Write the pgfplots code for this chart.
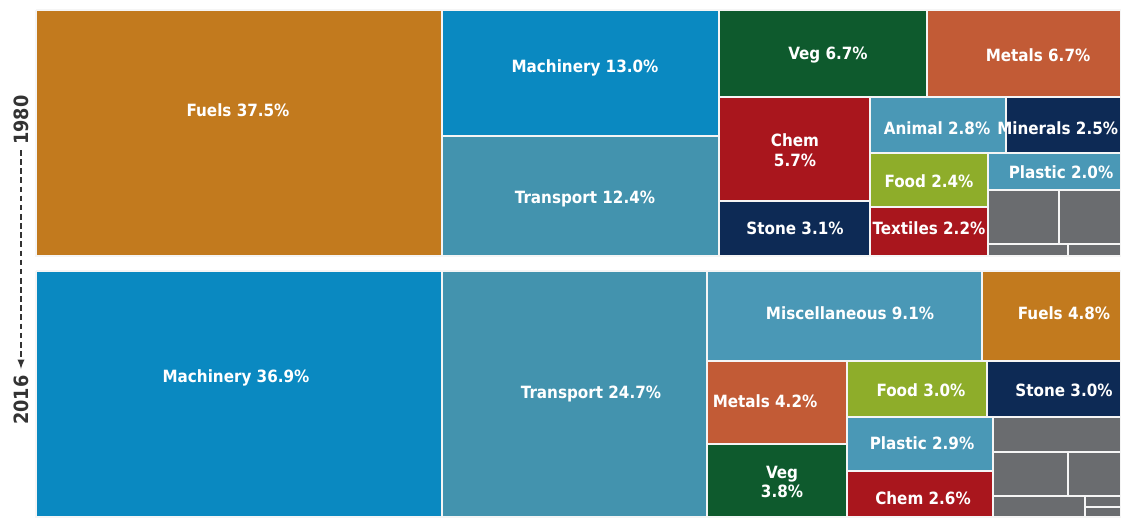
\documentclass[border=0pt]{standalone}
\usepackage{fontspec}
\setmainfont{DejaVu Sans Condensed}
\usepackage{pgfplots}
\pgfplotsset{compat=1.18}

\definecolor{cFuel}{HTML}{C27A1E}
\definecolor{cMach}{HTML}{0A89C1}
\definecolor{cTrans}{HTML}{4393AE}
\definecolor{cVeg}{HTML}{0E5A2D}
\definecolor{cMetal}{HTML}{C25B36}
\definecolor{cChem}{HTML}{A9161D}
\definecolor{cNavy}{HTML}{0D2A55}
\definecolor{cLight}{HTML}{4A98B6}
\definecolor{cFood}{HTML}{8EAD2A}
\definecolor{cGrey}{HTML}{6A6C6F}
\definecolor{cYear}{HTML}{333333}

% one treemap tile: x0, y0, x1, y1 (pixels, y downwards), colour
\newcommand{\tile}[5]{%
  \addplot[fill=#5, draw=white!92!gray, line width=1pt]
    coordinates {(#1,#2) (#3,#2) (#3,#4) (#1,#4) (#1,#2)};}
\newcommand{\lblfont}{\bfseries\fontsize{12}{13}\selectfont}
\newcommand{\lbl}[3]{%
  \node[text=white, font=\lblfont, align=center]
    at (axis cs:#1,#2) {#3};}

\begin{document}
\begin{tikzpicture}
\begin{axis}[
    width=28.025cm, height=12.925cm,
    scale only axis,
    xmin=0, xmax=1121,
    ymin=0, ymax=517,
    y dir=reverse,
    hide axis,
    clip=false,
]
% ---- 1980 ----
\tile{36}{10}{442}{256}{cFuel}
\tile{442}{10}{719}{136}{cMach}
\tile{442}{136}{719}{256}{cTrans}
\tile{719}{10}{927}{97}{cVeg}
\tile{927}{10}{1121}{97}{cMetal}
\tile{719}{97}{870}{201}{cChem}
\tile{719}{201}{870}{256}{cNavy}
\tile{870}{97}{1006}{153}{cLight}
\tile{1006}{97}{1121}{153}{cNavy}
\tile{870}{153}{988}{207}{cFood}
\tile{870}{207}{988}{256}{cChem}
\tile{988}{153}{1121}{190}{cLight}
\tile{988}{190}{1059}{244}{cGrey}
\tile{1059}{190}{1121}{244}{cGrey}
\tile{988}{244}{1068}{256}{cGrey}
\tile{1068}{244}{1121}{256}{cGrey}
% ---- 2016 ----
\tile{36}{271}{442}{517}{cMach}
\tile{442}{271}{707}{517}{cTrans}
\tile{707}{271}{982}{361}{cLight}
\tile{982}{271}{1121}{361}{cFuel}
\tile{707}{361}{847}{444}{cMetal}
\tile{707}{444}{847}{517}{cVeg}
\tile{847}{361}{987}{417}{cFood}
\tile{987}{361}{1121}{417}{cNavy}
\tile{847}{417}{993}{471}{cLight}
\tile{847}{471}{993}{517}{cChem}
\tile{993}{417}{1121}{452}{cGrey}
\tile{993}{452}{1068}{496}{cGrey}
\tile{1068}{452}{1121}{496}{cGrey}
\tile{993}{496}{1085}{517}{cGrey}
\tile{1085}{496}{1121}{507}{cGrey}
\tile{1085}{507}{1121}{517}{cGrey}

% labels 1980
\lbl{238}{110}{Fuels 37.5\%}
\lbl{585}{68}{Machinery 13.0\%}
\lbl{585}{199}{Transport 12.4\%}
\lbl{828}{55}{Veg 6.7\%}
\lbl{1038}{55}{Metals 6.7\%}
\lbl{795}{150}{Chem\\[1pt]5.7\%}
\lbl{795}{228}{Stone 3.1\%}
\lbl{937}{128}{Animal 2.8\%}
\node[text=white, font=\lblfont, anchor=east]
  at (axis cs:1123,128) {Minerals 2.5\%};
\lbl{929}{181}{Food 2.4\%}
\lbl{929}{228}{Textiles 2.2\%}
\lbl{1061}{172}{Plastic 2.0\%}
% labels 2016
\lbl{236}{378}{Machinery 36.9\%}
\lbl{591}{394}{Transport 24.7\%}
\lbl{850}{313}{Miscellaneous 9.1\%}
\lbl{1064}{313}{Fuels 4.8\%}
\lbl{765}{401}{Metals 4.2\%}
\lbl{921}{390}{Food 3.0\%}
\lbl{1064}{390}{Stone 3.0\%}
\lbl{922}{443}{Plastic 2.9\%}
\lbl{782}{482}{Veg\\[1pt]3.8\%}
\lbl{923}{498}{Chem 2.6\%}

% time axis on the left
\node[rotate=90, text=cYear, font=\bfseries\fontsize{14}{15}\selectfont]
  at (axis cs:21,120) {1980};
\node[rotate=90, text=cYear, font=\bfseries\fontsize{14}{15}\selectfont]
  at (axis cs:21,400) {2016};
\draw[cYear, line width=1.3pt, dash pattern=on 4pt off 2.5pt, -latex]
  (axis cs:21,150) -- (axis cs:21,369);
\end{axis}
\pgfresetboundingbox
\path[use as bounding box] (current axis.south west) rectangle (current axis.north east);
\end{tikzpicture}
\end{document}
